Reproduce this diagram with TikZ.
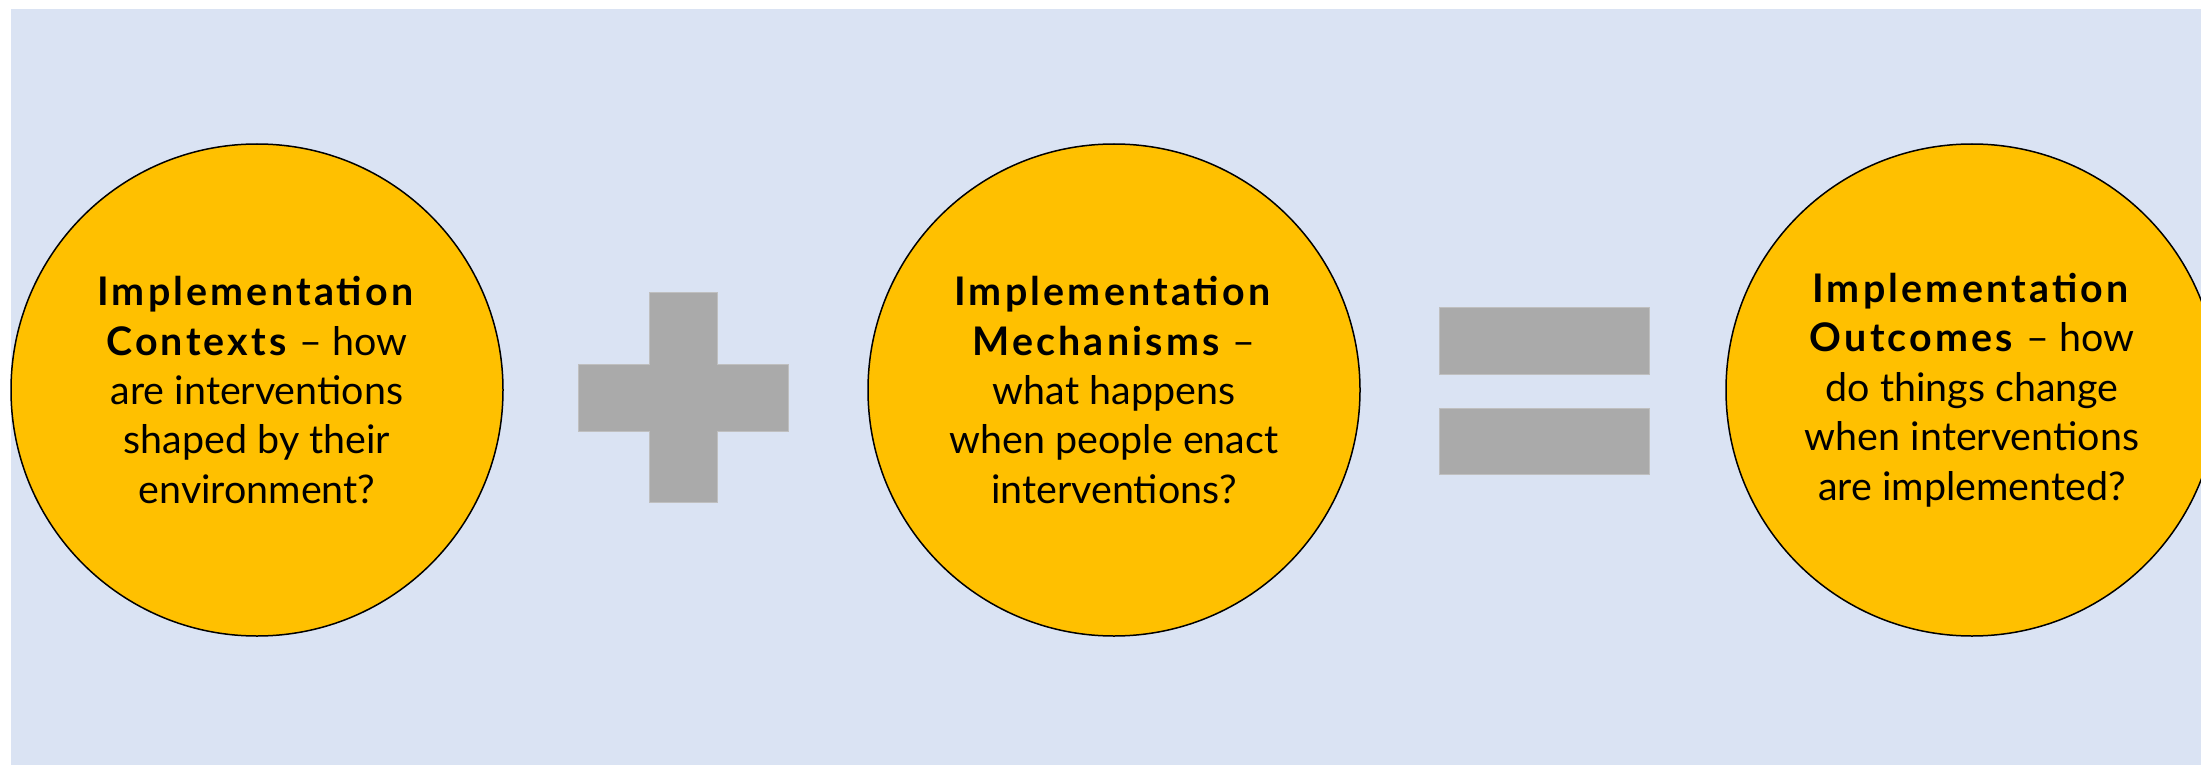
\documentclass[tikz,border=0pt]{standalone}
\usepackage{fontspec}
\setmainfont{Lato}[BoldFeatures={LetterSpace=8}]
\definecolor{bgblue}{HTML}{DAE3F3}
\definecolor{ambergold}{HTML}{FFC000}
\definecolor{opgray}{HTML}{AAAAAA}
\begin{document}
\begin{tikzpicture}[x=0.5pt,y=-0.5pt,stage node/.style={circle,draw=black,line width=0.75pt,fill=ambergold,minimum size=246pt,inner sep=0pt,align=center,font=\fontsize{19.7}{24.7}\selectfont},op bar/.style={fill=opgray,draw=opgray!75!white,line width=0.4pt}]
\clip (0,0) rectangle (2201,765);
\fill[bgblue] (11,9) rectangle (2201,765);
\begin{scope}
\node[stage node] (ctx) at (257,390) {\textbf{Implementation}\\\textbf{Contexts} -- how\\are interventions\\shaped by their\\environment?};
\node[stage node] (mech) at (1114,390) {\textbf{Implementation}\\\textbf{Mechanisms} --\\what happens\\when people enact\\interventions?};
\node[stage node] (outc) at (1972,390) {\textbf{Implementation}\\\textbf{Outcomes} -- how\\do things change\\when interventions\\are implemented?};
\end{scope}
\begin{scope}
% plus
\draw[op bar] (649,292) -- (717,292) -- (717,364) -- (788,364) -- (788,431) -- (717,431) -- (717,502) -- (649,502) -- (649,431) -- (578,431) -- (578,364) -- (649,364) -- cycle;
% equals
\draw[op bar] (1439,307) rectangle (1649,374);
\draw[op bar] (1439,408) rectangle (1649,474);
\end{scope}
\end{tikzpicture}
\end{document}
